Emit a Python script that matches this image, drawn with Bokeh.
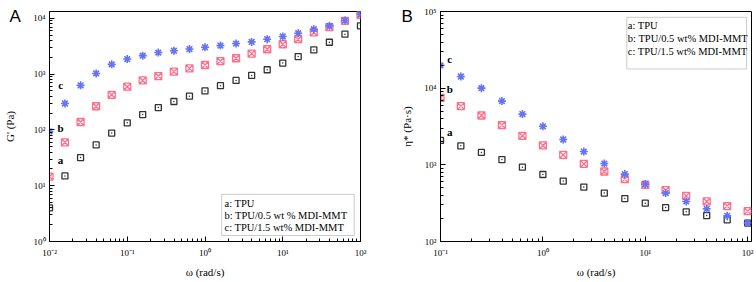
from bokeh.plotting import figure
from bokeh.layouts import row
from bokeh.models import CustomJSTickFormatter, LogTicker, Title, BoxAnnotation
from bokeh.core.properties import value
from bokeh.embed import file_html
from bokeh.resources import INLINE

# ---------------- data ----------------
# Panel A: storage modulus G' (Pa) vs angular frequency (rad/s)
omega_A = [0.01, 0.0158, 0.0251, 0.0398, 0.0631, 0.1, 0.158, 0.251, 0.398, 0.631,
           1.0, 1.58, 2.51, 3.98, 6.31, 10.0, 15.8, 25.1, 39.8, 63.1, 100.0]
G_a = [4.0, 15, 32, 54, 88, 134, 189, 252, 324, 403, 500, 621, 773, 951, 1200,
       1580, 2070, 2720, 3740, 5210, 7360]
G_b = [14.6, 60, 139, 266, 427, 596, 773, 925, 1110, 1270, 1460, 1720, 1930, 2340,
       2800, 3440, 4240, 5600, 6970, 9060, 11500]
G_c = [94, 298, 630, 1030, 1500, 1870, 2150, 2440, 2630, 2820, 3040, 3260, 3540,
       3790, 4240, 4740, 5430, 6410, 7360, 9200, 11900]

# Panel B: complex viscosity eta* (Pa s) vs angular frequency (rad/s)
omega_B = [0.1, 0.158, 0.251, 0.398, 0.631, 1.0, 1.58, 2.51, 3.98, 6.31, 10.0,
           15.8, 25.1, 39.8, 63.1, 100.0]
eta_a = [2080, 1770, 1450, 1170, 933, 748, 614, 513, 428, 363, 316, 277, 244, 218, 192, 174]
eta_b = [7480, 5830, 4400, 3300, 2390, 1790, 1350, 1030, 819, 651, 550, 468, 394, 333, 290, 249]
eta_c = [19800, 14200, 10000, 6780, 4590, 3180, 2140, 1490, 1040, 757, 561, 428, 333, 267, 216, 174]

legend_A = ["a: TPU", "b: TPU/0.5 wt % MDI-MMT", "c: TPU/1.5 wt%  MDI-MMT"]
legend_B = ["a: TPU", "b: TPU/0.5 wt% MDI-MMT", "c: TPU/1.5 wt% MDI-MMT"]
series_letters = ["a", "b", "c"]

# ---------------- style ----------------
SERIF = "Liberation Serif"
C_A = "#333333"
C_B = "#ff6f8c"
C_C = "#6474f2"
FIG_H = 281

sup_formatter = CustomJSTickFormatter(code="""
const sup = {'-':'\u207b','0':'\u2070','1':'\u00b9','2':'\u00b2','3':'\u00b3',
             '4':'\u2074','5':'\u2075','6':'\u2076','7':'\u2077','8':'\u2078','9':'\u2079'};
const e = Math.round(Math.log10(tick));
return '10' + String(e).split('').map(c => sup[c]).join('');
""")


def style_axes(p, ylab_standoff):
    for ax in (p.xaxis[0], p.yaxis[0]):
        ax.ticker = LogTicker(num_minor_ticks=10)
        ax.formatter = sup_formatter
        ax.major_tick_in = 5
        ax.major_tick_out = 0
        ax.minor_tick_in = 3
        ax.minor_tick_out = 0
        ax.axis_line_color = "black"
        ax.major_tick_line_color = "black"
        ax.minor_tick_line_color = "black"
        ax.major_label_text_font = SERIF
        ax.major_label_text_font_size = "9px"
        ax.major_label_text_color = "black"
        ax.axis_label_text_font = SERIF
        ax.axis_label_text_font_size = "11px"
        ax.axis_label_text_font_style = "normal"
        ax.axis_label_text_color = "black"
    p.xaxis[0].major_label_standoff = 6
    p.xaxis[0].axis_label_standoff = 5
    p.yaxis[0].major_label_standoff = 4
    p.yaxis[0].axis_label_standoff = ylab_standoff
    p.xgrid.visible = False
    p.ygrid.visible = False
    p.outline_line_color = "black"
    p.outline_line_width = 1


def make_fig(x_range, y_range, left_border, right_border):
    p = figure(x_axis_type="log", y_axis_type="log",
               x_range=x_range, y_range=y_range,
               frame_width=311, frame_height=230,
               min_border_left=left_border, min_border_right=right_border,
               min_border_top=11, min_border_bottom=FIG_H - 11 - 230,
               output_backend="svg", toolbar_location=None)
    p.background_fill_color = "white"
    p.border_fill_color = "white"
    return p


def add_series(p, xs, ya, yb, yc):
    p.scatter(xs, ya, marker="square_dot", size=6, line_color=C_A, fill_color=None,
              line_width=1.3)
    p.scatter(xs, yb, marker="square_x", size=7, line_color=C_B, fill_color=None,
              line_width=1.3)
    p.scatter(xs, yc, marker="asterisk", size=8, line_color=C_C, line_width=1.6)


def panel_letter(p, letter, offset):
    p.add_layout(Title(text=letter, align="left", vertical_align="bottom",
                       offset=offset, standoff=-29,
                       text_font="Liberation Sans", text_font_size="17px",
                       text_font_style="normal", text_color="black"), "above")


# ---------------- panel A ----------------
pA = make_fig((0.01, 100), (1, 1.33e4), 49, 10)
style_axes(pA, 14)
pA.xaxis.axis_label = "\u03c9 (rad/s)"
pA.yaxis.axis_label = "G' (Pa)"
add_series(pA, omega_A, G_a, G_b, G_c)
pA.text(x=[0.0139] * 3, y=[29.5, 110, 630], text=series_letters,
        text_font=value(SERIF), text_font_style="bold", text_font_size="11px",
        text_align="center", text_baseline="middle", text_color="black")
pA.add_layout(BoxAnnotation(left=1.64, right=83, bottom=1.28, top=7.0,
                            fill_color="white", fill_alpha=1.0,
                            line_color="#555555", line_width=1, level="underlay"))
pA.text(x=[1.78] * 3, y=[4.81, 2.93, 1.78], text=legend_A,
        text_font=value(SERIF), text_font_size="10.5px", text_align="left",
        text_baseline="middle", text_color="black")
panel_letter(pA, "A", -40)

# ---------------- panel B ----------------
pB = make_fig((0.1, 109), (100, 1e5), 70, 4)
style_axes(pB, 8)
pB.xaxis.axis_label = "\u03c9 (rad/s)"
pB.yaxis.axis_label = "\u03b7* (Pa\u00b7s)"
add_series(pB, omega_B, eta_a, eta_b, eta_c)
pB.text(x=[0.123] * 3, y=[2660, 9680, 24000], text=series_letters,
        text_font=value(SERIF), text_font_style="bold", text_font_size="11px",
        text_align="center", text_baseline="middle", text_color="black")
pB.add_layout(BoxAnnotation(left=6.6, right=97.5, bottom=17800, top=84000,
                            fill_color="white", fill_alpha=1.0,
                            line_color="#555555", line_width=1, level="underlay"))
pB.text(x=[6.75] * 3, y=[66100, 44200, 29900], text=legend_B,
        text_font=value(SERIF), text_font_size="10.5px", text_align="left",
        text_baseline="middle", text_color="black")
panel_letter(pB, "B", -39)

layout = row(pA, pB, spacing=0)
open("out.html", "w").write(file_html(layout, INLINE))
